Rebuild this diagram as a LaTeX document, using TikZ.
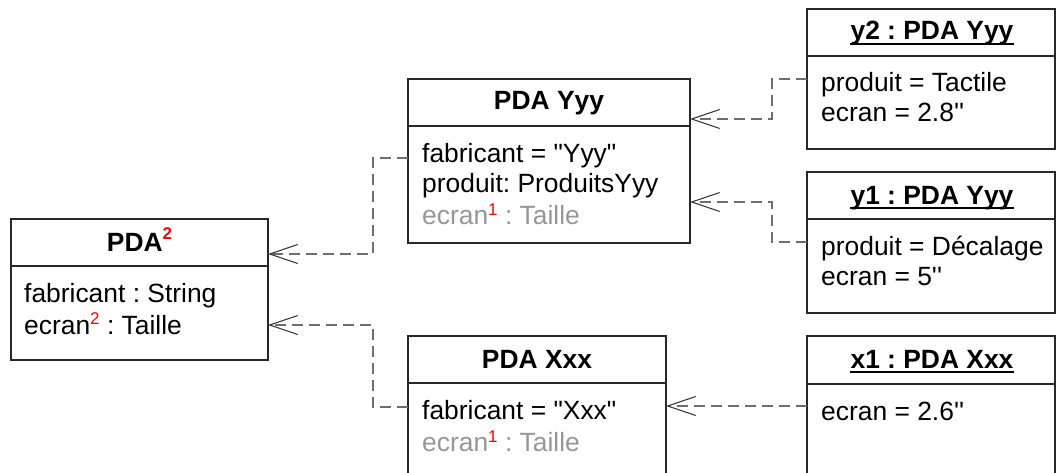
\documentclass[tikz,border=0pt]{standalone}
\usepackage{fontspec}
\newfontfamily\lsans{Liberation Sans}
\usetikzlibrary{arrows.meta}
\definecolor{boxc}{RGB}{40,40,40}
\definecolor{connc}{RGB}{110,110,110}
\definecolor{arrc}{RGB}{60,60,60}
\definecolor{grayt}{RGB}{150,150,150}
\definecolor{supred}{RGB}{255,0,0}
\newcommand\rsup[2]{\raisebox{#1}{\fontsize{17}{17}\selectfont\color{supred}#2}}
\begin{document}
\begin{tikzpicture}[x=1pt,y=-1pt,
  box/.style={draw=boxc, line width=1.5pt, rectangle, anchor=north west, inner sep=0pt, outer sep=0pt},
  sepline/.style={draw=boxc, line width=1.5pt},
  txt/.style={font=\lsans\frenchspacing\fontsize{26.4}{30}\selectfont, inner sep=0pt, anchor=base west},
  ttl/.style={font=\lsans\frenchspacing\bfseries\fontsize{26.4}{30}\selectfont, inner sep=0pt, anchor=base},
  uline/.style={draw=black, line width=1.8pt},
  dep/.style={draw=connc, line width=1.3pt, dash pattern=on 11pt off 6pt,
    -{Straight Barb[length=28pt,width=19pt,line width=1.1pt,color=arrc]}},
]
\useasboundingbox (0,0) rectangle (1056,473);
% boxes
\node[box, minimum width=257pt, minimum height=141pt] (pda) at (11,219) {};
\node[box, minimum width=282pt, minimum height=164pt] (yyy) at (408,79) {};
\node[box, minimum width=258pt, minimum height=150pt] (xxx) at (408,336) {};
\node[box, minimum width=248pt, minimum height=140pt] (y2) at (807,9) {};
\node[box, minimum width=248pt, minimum height=141pt] (y1) at (807,172) {};
\node[box, minimum width=248pt, minimum height=150pt] (x1) at (807,336) {};
% separators
\draw[sepline] (pda.west |- 0,266) -- (pda.east |- 0,266);
\draw[sepline] (yyy.west |- 0,126) -- (yyy.east |- 0,126);
\draw[sepline] (xxx.west |- 0,383) -- (xxx.east |- 0,383);
\draw[sepline] (y2.west |- 0,56) -- (y2.east |- 0,56);
\draw[sepline] (y1.west |- 0,219) -- (y1.east |- 0,219);
\draw[sepline] (x1.west |- 0,384) -- (x1.east |- 0,384);
% PDA
\node[ttl] (pdat) at (139.5,251) {PDA\rsup{12pt}{2}};
\node[txt] (pda1) at (24,302) {fabricant : String};
\node[txt] (pda2) at (24,334) {ecran\rsup{10pt}{2} : Taille};
% PDA Yyy
\node[ttl] (yyyt) at (549,110) {PDA Yyy};
\node[txt] (yyy1) at (422,163) {fabricant = "Yyy"};
\node[txt] (yyy2) at (422,193) {produit: ProduitsYyy};
\node[txt, text=grayt] (yyy3) at (422,224) {ecran\rsup{9pt}{1} : Taille};
% PDA Xxx
\node[ttl] (xxxt) at (537,368) {PDA Xxx};
\node[txt] (xxx1) at (422,419) {fabricant = "Xxx"};
\node[txt, text=grayt] (xxx2) at (422,451) {ecran\rsup{9pt}{1} : Taille};
% y2
\node[ttl] (y2t) at (932,40) {y2 : PDA Yyy};
\draw[uline] ([yshift=-4pt]y2t.base west) -- ([yshift=-4pt]y2t.base east);
\node[txt] (y2a) at (821,92) {produit = Tactile};
\node[txt] (y2b) at (821,122) {ecran = 2.8''};
% y1
\node[ttl] (y1t) at (932,204) {y1 : PDA Yyy};
\draw[uline] ([yshift=-4pt]y1t.base west) -- ([yshift=-4pt]y1t.base east);
\node[txt] (y1a) at (821,255) {produit = Décalage};
\node[txt] (y1b) at (821,285) {ecran = 5''};
% x1
\node[ttl] (x1t) at (932,368) {x1 : PDA Xxx};
\draw[uline] ([yshift=-4pt]x1t.base west) -- ([yshift=-4pt]x1t.base east);
\node[txt] (x1a) at (821,420) {ecran = 2.6''};
% connectors
\draw[dep] (yyy.west |- 0,158) -- ++(-35,0) |- (pda.east |- 0,254);
\draw[dep] (xxx.west |- 0,407) -- ++(-35,0) |- (pda.east |- 0,325);
\draw[dep] (y2.west |- 0,79) -- ++(-35,0) |- (yyy.east |- 0,119);
\draw[dep] (y1.west |- 0,242) -- ++(-35,0) |- (yyy.east |- 0,202);
\draw[dep] (x1.west |- 0,406) -- (xxx.east |- 0,406);
\end{tikzpicture}
\end{document}
